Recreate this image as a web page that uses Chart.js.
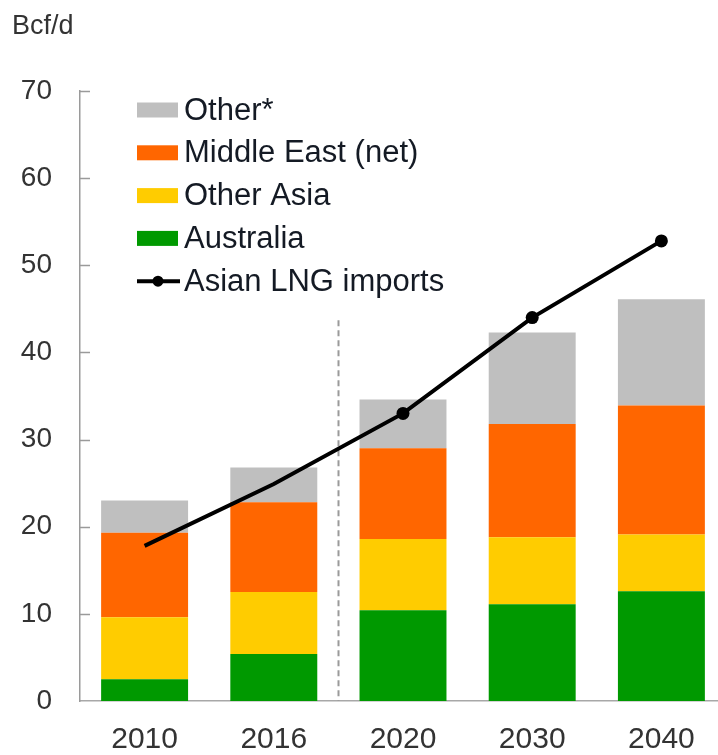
<!DOCTYPE html>
<html>
<head>
<meta charset="utf-8">
<script src="https://cdn.jsdelivr.net/npm/chart.js@4/dist/chart.umd.min.js"></script>
<style>
  html, body { margin: 0; padding: 0; background: #fff; overflow: hidden; }
  #wrap { width: 740px; height: 755px; }
</style>
</head>
<body>
<div id="wrap"><canvas id="c" width="740" height="755"></canvas></div>
<script>
// ---- data ----
const categories = ['2010', '2016', '2020', '2030', '2040'];
const australia   = [2.5, 5.4, 10.4, 11.1, 12.6];
const otherAsia   = [7.1, 7.1, 8.2, 7.7, 6.5];
const middleEast  = [9.7, 10.3, 10.4, 13.0, 14.8];
const otherSupply = [3.7, 4.0, 5.6, 10.5, 12.2];
const asianLngImports = [17.8, 24.9, 33.0, 44.0, 52.8];
const lngMarkerShown = [false, false, true, true, true];
const yTicks = [0, 10, 20, 30, 40, 50, 60, 70];
const unitLabel = 'Bcf/d';
const dividerTop = 43.7; // top of dashed divider between history and outlook (axis units)

const FONT = '"Liberation Sans", Arial, Helvetica, sans-serif';

const innerTicks = {
  id: 'innerTicks',
  afterDraw(chart) {
    const {ctx, scales: {y}, chartArea} = chart;
    ctx.save();
    ctx.strokeStyle = '#9a9a9a';
    ctx.lineWidth = 1.5;
    yTicks.forEach(v => {
      if (v === 0) return;
      const py = Math.round(y.getPixelForValue(v)) + 0.5;
      ctx.beginPath();
      ctx.moveTo(chartArea.left, py);
      ctx.lineTo(chartArea.left + 10, py);
      ctx.stroke();
    });
    // unit label
    ctx.fillStyle = '#333';
    ctx.font = '27px ' + FONT;
    ctx.textBaseline = 'alphabetic';
    ctx.textAlign = 'left';
    ctx.fillText(unitLabel, 12, 34);
    ctx.restore();
  }
};

const divider = {
  id: 'divider',
  beforeDatasetsDraw(chart) {
    const {ctx, scales: {x, y}} = chart;
    const px = Math.round((x.getPixelForValue(1) + x.getPixelForValue(2)) / 2) + 0.5;
    ctx.save();
    ctx.strokeStyle = '#9a9a9a';
    ctx.lineWidth = 2;
    ctx.setLineDash([6, 4]);
    ctx.beginPath();
    ctx.moveTo(px, y.getPixelForValue(dividerTop));
    ctx.lineTo(px, y.getPixelForValue(0));
    ctx.stroke();
    ctx.restore();
  }
};

const insideLegend = {
  id: 'insideLegend',
  afterDraw(chart) {
    const {ctx} = chart;
    const ds = chart.data.datasets;
    const items = [ds[3], ds[2], ds[1], ds[0], ds[4]];
    const boxX = 137, boxW = 41, boxH = 15, textX = 184;
    let cy = 110;
    ctx.save();
    ctx.font = '31px ' + FONT;
    ctx.textBaseline = 'middle';
    ctx.textAlign = 'left';
    items.forEach(d => {
      if (d.type === 'line') {
        ctx.strokeStyle = d.borderColor;
        ctx.lineWidth = 4;
        ctx.beginPath();
        ctx.moveTo(boxX, cy);
        ctx.lineTo(boxX + 43, cy);
        ctx.stroke();
        ctx.fillStyle = d.borderColor;
        ctx.beginPath();
        ctx.arc(boxX + 21, cy, 5.5, 0, Math.PI * 2);
        ctx.fill();
      } else {
        ctx.fillStyle = d.backgroundColor;
        ctx.fillRect(boxX, cy - boxH / 2, boxW, boxH);
      }
      ctx.fillStyle = '#141a24';
      ctx.fillText(d.label, textX, cy + 1);
      cy += 42.8;
    });
    ctx.restore();
  }
};

const barCommon = { type: 'bar', stack: 'supply', order: 1, borderWidth: 0,
  barPercentage: 0.673, categoryPercentage: 1.0 };

new Chart(document.getElementById('c'), {
  data: {
    labels: categories,
    datasets: [
      Object.assign({}, barCommon, { label: 'Australia', data: australia, backgroundColor: '#009900' }),
      Object.assign({}, barCommon, { label: 'Other Asia', data: otherAsia, backgroundColor: '#ffcc00' }),
      Object.assign({}, barCommon, { label: 'Middle East (net)', data: middleEast, backgroundColor: '#ff6600' }),
      Object.assign({}, barCommon, { label: 'Other*', data: otherSupply, backgroundColor: '#bfbfbf' }),
      {
        type: 'line', label: 'Asian LNG imports', data: asianLngImports, stack: 'lng', order: 0,
        borderColor: '#000', backgroundColor: '#000', borderWidth: 4, tension: 0,
        pointRadius: lngMarkerShown.map(s => s ? 6.5 : 0), pointHoverRadius: 0,
        pointBackgroundColor: '#000', pointBorderWidth: 0
      }
    ]
  },
  options: {
    responsive: false,
    animation: false,
    devicePixelRatio: 1,
    layout: { padding: { top: 91, right: 14, bottom: 0, left: 0 } },
    plugins: { legend: { display: false }, tooltip: { enabled: false }, title: { display: false } },
    scales: {
      x: {
        stacked: true,
        grid: { display: false, drawTicks: false },
        border: { display: true, color: '#a8a8a8', width: 1.5 },
        ticks: { color: '#333', font: { family: FONT, size: 30 }, padding: 21, maxRotation: 0 },
        afterFit(s) { s.height = 54; }
      },
      y: {
        stacked: true,
        min: 0, max: 70,
        grid: { display: false, drawTicks: false },
        border: { display: true, color: '#9a9a9a', width: 1.5 },
        ticks: { stepSize: 10, color: '#333', font: { family: FONT, size: 28 }, padding: 28,
                 callback: (v) => yTicks.includes(v) ? String(v) : '' },
        afterFit(s) { s.width = 80; }
      }
    }
  },
  plugins: [divider, innerTicks, insideLegend]
});
</script>
</body>
</html>
